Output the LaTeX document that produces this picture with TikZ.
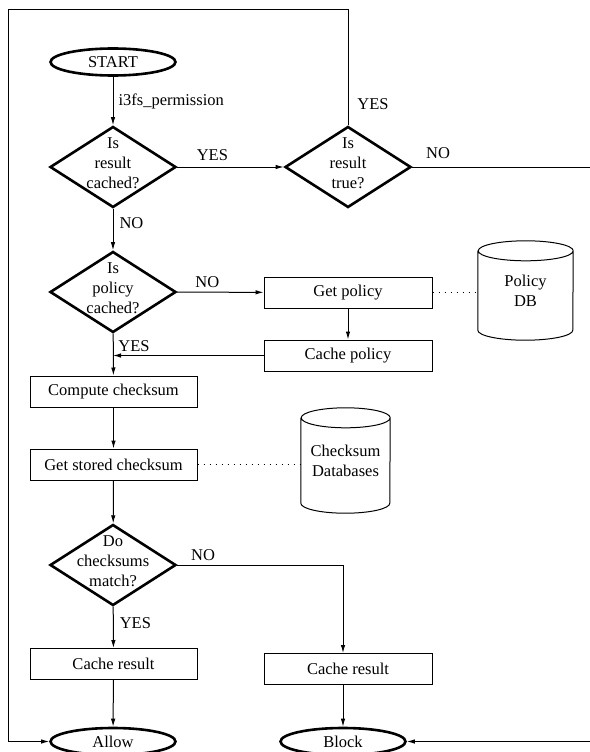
\documentclass[tikz,border=0pt]{standalone}
\usepackage{fontspec}
\setmainfont{Liberation Serif}
\usetikzlibrary{shapes.geometric, arrows.meta, positioning}

\tikzset{
    decision/.style={diamond, draw, line width=2.6pt, minimum width=126pt, minimum height=81pt, inner sep=0pt},
    terminal/.style={ellipse, draw, line width=2.6pt, minimum width=125pt, minimum height=27pt, inner sep=0pt},
    process/.style={rectangle, draw, line width=1pt, minimum width=167pt, minimum height=31pt, inner sep=0pt},
    store/.style={rectangle, inner sep=0pt, align=center},
    flow/.style={-{Latex[length=8pt, width=4.5pt]}, line width=1pt},
    link/.style={line width=1pt, dash pattern=on 1pt off 5pt},
    tag/.style={inner sep=0pt, align=center}
}

\begin{document}
\begin{tikzpicture}[x=1pt, y=-1pt, font=\fontsize{16.5}{20}\selectfont]
        \useasboundingbox (0, 0) rectangle (589, 752);

        \node[terminal] (start) at (113, 62) {START};
        \node[decision] (cached) at (113, 167) {};
        \node[tag] at ([yshift=4pt]cached.center) {Is\\result\\cached?};
        \node[decision] (true) at (348, 167) {};
        \node[tag] at ([yshift=4pt]true.center) {Is\\result\\true?};
        \node[decision] (policy) at (113, 292) {};
        \node[tag] at ([yshift=4pt]policy.center) {Is\\policy\\cached?};
        \node[process, minimum width=168pt] (getpol) at (348, 292.5) {Get policy};
        \node[process, minimum width=168pt] (cachepol) at (348, 355.5) {Cache policy};
        \node[store, minimum height=99pt, minimum width=95pt] (poldb) at (525.5, 290.5) {Policy\\DB};
        \node[process] (compute) at (113.5, 391.5) {Compute checksum};
        \node[process] (stored) at (113.5, 464.5) {Get stored checksum};
        \node[store, minimum height=105pt, minimum width=89pt] (sumdb) at (345.5, 460.5) {Checksum\\Databases};
        \node[decision] (match) at (113, 565) {};
        \node[tag] at ([yshift=4pt]match.center) {Do\\checksums\\match?};
        \node[process] (resok) at (113.5, 664) {Cache result};
        \node[process, minimum width=168pt] (resbad) at (348, 669) {Cache result};
        \node[terminal] (allow) at (113, 741.5) {Allow};
        \node[terminal] (block) at (343, 741.5) {Block};

        \coordinate (topleft) at (8, 10);
        \coordinate (farright) at (600, 167);

        \draw[line width=1pt] ([yshift=-10pt]poldb.north west) -- ([yshift=10pt]poldb.south west)
            arc[start angle=180, end angle=360, x radius=47.5pt, y radius=10pt]
            -- ([yshift=-10pt]poldb.north east)
            arc[start angle=0, end angle=360, x radius=47.5pt, y radius=10pt];
        \draw[line width=1pt] ([yshift=-10pt]sumdb.north west) -- ([yshift=10pt]sumdb.south west)
            arc[start angle=180, end angle=360, x radius=44.5pt, y radius=10pt]
            -- ([yshift=-10pt]sumdb.north east)
            arc[start angle=0, end angle=360, x radius=44.5pt, y radius=10pt];

        \draw[flow] (start) -- node[tag, anchor=west, xshift=5pt] {i3fs\_permission} (cached);
        \draw[flow] (cached) -- node[tag, above=6pt, pos=0.33] {YES} (true);
        \draw[flow] (cached) -- node[tag, right=6pt, pos=0.35] {NO} (policy);
        \draw[flow] (policy) -- node[tag, above=4pt, pos=0.35] {NO} (getpol);
        \draw[flow] (getpol) -- (cachepol);
        \draw[flow] (cachepol.west) -- (cachepol.west -| policy);
        \draw[flow] (policy) -- (compute);
        \draw[flow] (compute) -- (stored);
        \draw[flow] (stored) -- (match);
        \draw[flow] (match) -- node[tag, right=6pt, pos=0.4] {YES} (resok);
        \draw[flow] (match.east) -| (block |- resbad.north);
        \draw[flow] (resok) -- (allow);
        \draw[flow] (block |- resbad.south) -- (block);
        \draw[flow] (true.north) |- (topleft) |- (allow.west);
        \draw[flow] (true.east) -- (farright) |- (block.east);
        \draw[link] (getpol.east) -- (poldb.west |- getpol.east);
        \draw[link] (stored.east) -- (sumdb.west |- stored.east);

        \node[tag] at (134, 346) {YES};
        \node[tag] at (373, 104) {YES};
        \node[tag] at (438, 153) {NO};
        \node[tag] at (203, 555) {NO};
    \end{tikzpicture}
\end{document}
